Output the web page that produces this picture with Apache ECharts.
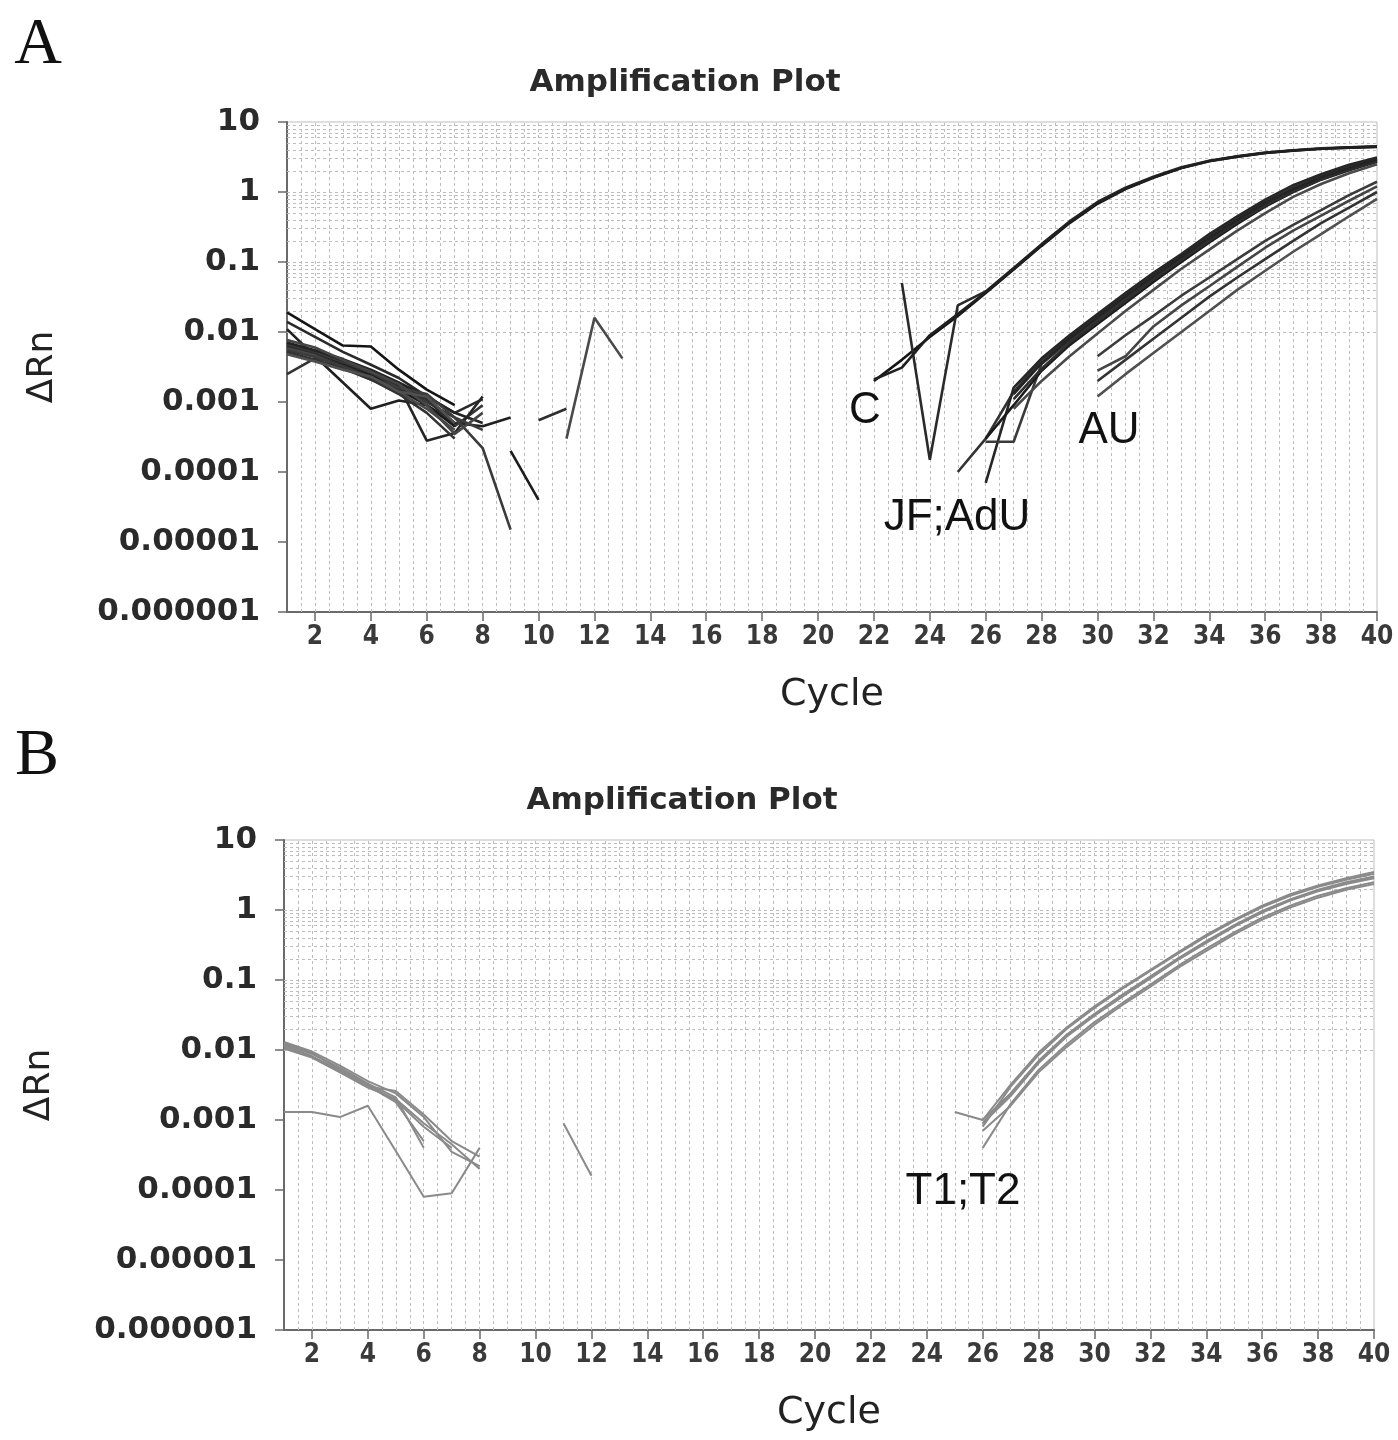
<!DOCTYPE html>
<html>
<head>
<meta charset="utf-8">
<script src="https://cdn.jsdelivr.net/npm/echarts@6/dist/echarts.min.js"></script>
<style>
html,body{margin:0;padding:0;background:#fff;}
#chart{width:1398px;height:1440px;}
</style>
</head>
<body>
<div id="chart"></div>
<script>
const _ = null;
// x positions (cycle numbers) shared by all series
const cycles = [1,2,3,4,5,6,7,8,9,10,11,12,13,14,15,16,17,18,19,20,21,22,23,24,25,26,27,28,29,30,31,32,33,34,35,36,37,38,39,40];
const xTickValues = [2,4,6,8,10,12,14,16,18,20,22,24,26,28,30,32,34,36,38,40];
const yTickValues = [0.000001,0.00001,0.0001,0.001,0.01,0.1,1,10];
const yTickLabels = ['0.000001','0.00001','0.0001','0.001','0.01','0.1','1','10'];

// ---- Panel A : ΔRn per cycle (null = not plotted) ----
//            c1..c13                                                                          c14..c21          c22..c40
const A_C1  = [0.019,0.011,0.0064,0.0062,0.0029,0.0015,0.0009,_,_,_,_,_,_,                    _,_,_,_,_,_,_,_, 0.002,0.004,0.0085,0.017,0.036,0.078,0.17,0.36,0.68,1.1,1.6,2.2,2.75,3.2,3.6,3.9,4.15,4.3,4.45];
const A_C2  = [0.014,0.0085,0.0052,0.0034,0.0022,0.0012,0.0007,0.0011,_,_,_,_,_,              _,_,_,_,_,_,_,_, _,0.05,0.00015,0.024,0.038,0.082,0.18,0.38,0.72,1.15,1.65,2.25,2.8,3.25,3.65,3.95,4.2,4.35,4.5];
const A_C3  = [0.011,0.0045,0.0019,0.0008,0.00105,0.0009,0.0005,0.00045,0.0006,_,_,_,_,        _,_,_,_,_,_,_,_, 0.0021,0.0031,0.009,0.018,0.037,0.08,0.175,0.37,0.7,1.12,1.62,2.2,2.78,3.2,3.6,3.92,4.15,4.3,4.4];
const A_J1  = [0.0025,0.0042,0.0038,0.0028,0.0018,0.0011,0.00045,0.0009,_,_,_,_,_,            _,_,_,_,_,_,_,_, _,_,_,0.0001,0.0003,0.0014,0.004,0.0085,0.017,0.034,0.066,0.125,0.23,0.42,0.72,1.15,1.7,2.3,3.0];
const A_J2  = [0.0068,0.0052,0.0038,0.0026,0.0017,0.00028,0.00036,0.0012,_,_,_,_,_,           _,_,_,_,_,_,_,_, _,_,_,_,0.00007,0.0016,0.0042,0.009,0.018,0.036,0.07,0.13,0.25,0.45,0.78,1.25,1.8,2.45,3.1];
const A_J3  = [0.0065,0.005,0.0036,0.0025,0.0016,0.001,0.0006,0.00022,0.000015,_,_,_,_,       _,_,_,_,_,_,_,_, _,_,_,_,0.00027,0.00027,0.0035,0.0075,0.015,0.03,0.06,0.115,0.21,0.38,0.66,1.05,1.55,2.15,2.8];
const A_J4  = [0.006,0.0047,0.0034,0.0024,0.0015,0.0009,0.00045,_,0.0002,0.00004,_,_,_,        _,_,_,_,_,_,_,_, _,_,_,_,0.0003,0.0009,0.0028,0.0065,0.013,0.026,0.052,0.1,0.19,0.35,0.62,1.0,1.5,2.05,2.7];
const A_J5  = [0.0062,0.0048,0.0033,0.0023,0.0015,0.0011,0.0005,_,_,0.00055,0.0008,_,_,        _,_,_,_,_,_,_,_, _,_,_,_,_,0.0011,0.003,0.007,0.014,0.028,0.056,0.108,0.2,0.37,0.64,1.02,1.52,2.1,2.75];
const A_J6  = [0.0058,0.0046,0.0031,0.0021,0.0014,0.0008,0.0004,_,_,_,0.0003,0.016,0.0042,     _,_,_,_,_,_,_,_, _,_,_,_,_,0.0008,0.002,0.0045,0.0095,0.02,0.04,0.08,0.15,0.28,0.5,0.85,1.3,1.85,2.5];
const A_J7  = [0.0071,0.0055,0.0041,0.0029,0.0019,0.0012,0.0007,0.0005,_,_,_,_,_,             _,_,_,_,_,_,_,_, _,_,_,_,_,0.0013,0.0036,0.008,0.016,0.032,0.062,0.118,0.22,0.4,0.7,1.1,1.62,2.2,2.9];
const A_AU1 = [0.0055,0.0044,0.0032,0.0022,0.0016,0.0013,0.0006,0.0004,_,_,_,_,_,             _,_,_,_,_,_,_,_, _,_,_,_,_,_,_,_,0.0045,0.009,0.017,0.033,0.06,0.11,0.2,0.34,0.55,0.9,1.4];
const A_AU2 = [0.0077,0.006,0.004,0.0027,0.0018,0.0009,0.00035,0.0007,_,_,_,_,_,              _,_,_,_,_,_,_,_, _,_,_,_,_,_,_,_,0.0028,0.0045,0.012,0.024,0.045,0.085,0.16,0.28,0.46,0.75,1.2];
const A_AU3 = [0.0052,0.004,0.003,0.0021,0.0013,0.0007,0.0003,_,_,_,_,_,_,                    _,_,_,_,_,_,_,_, _,_,_,_,_,_,_,_,0.002,0.004,0.008,0.016,0.032,0.06,0.11,0.2,0.36,0.6,1.0];
const A_AU4 = [0.0048,0.0038,0.0029,0.0023,0.0014,0.0012,0.0005,_,_,_,_,_,_,                  _,_,_,_,_,_,_,_, _,_,_,_,_,_,_,_,0.0012,0.0025,0.005,0.01,0.02,0.04,0.075,0.14,0.25,0.45,0.8];

// ---- Panel B ----
const B_T1 = [0.013,0.0095,0.006,0.0036,0.0024,0.0011,0.00035,0.00022,_,_,_,_,_,              _,_,_,_,_,_,_,_, _,_,_,0.0013,0.001,0.0024,0.0068,0.016,0.032,0.06,0.11,0.2,0.35,0.6,0.95,1.4,1.9,2.4,2.9];
const B_T2 = [0.012,0.0088,0.0056,0.0033,0.0021,0.0004,_,_,_,_,_,_,_,                         _,_,_,_,_,_,_,_, _,_,_,_,0.0004,0.0017,0.0052,0.012,0.025,0.047,0.086,0.16,0.28,0.48,0.78,1.15,1.6,2.05,2.5];
const B_T3 = [0.0115,0.0082,0.005,0.003,0.0026,0.0012,0.0005,0.0003,_,_,_,_,_,               _,_,_,_,_,_,_,_, _,_,_,_,0.0008,0.003,0.0085,0.02,0.04,0.075,0.135,0.24,0.42,0.7,1.1,1.6,2.15,2.7,3.3];
const B_T4 = [0.0125,0.009,0.0053,0.0032,0.0019,0.0008,0.0004,_,_,_,_,_,_,                   _,_,_,_,_,_,_,_, _,_,_,_,0.0009,0.0022,0.0065,0.0155,0.031,0.058,0.105,0.195,0.34,0.58,0.92,1.36,1.85,2.35,2.85];
const B_T5 = [0.0013,0.0013,0.0011,0.0016,0.00036,0.00008,0.00009,0.0004,_,_,_,_,_,          _,_,_,_,_,_,_,_, _,_,_,_,0.001,0.0032,0.0092,0.021,0.042,0.078,0.14,0.25,0.44,0.73,1.15,1.68,2.25,2.85,3.5];
const B_T6 = [0.011,0.008,0.0052,0.0031,0.0018,0.0005,_,_,_,_,_,_,_,                         _,_,_,_,_,_,_,_, _,_,_,_,0.0007,0.0016,0.0048,0.011,0.023,0.044,0.08,0.15,0.26,0.45,0.73,1.08,1.5,1.95,2.35];
const B_T7 = [0.0105,0.0078,0.0048,0.0029,0.002,0.0009,0.00045,0.0002,_,_,0.0009,0.00016,_,   _,_,_,_,_,_,_,_, _,_,_,_,0.0009,0.0024,0.007,0.0165,0.033,0.062,0.113,0.205,0.36,0.61,0.97,1.42,1.95,2.5,3.0];

const panelA = [A_C1,A_C2,A_C3,A_J1,A_J2,A_J3,A_J4,A_J5,A_J6,A_J7,A_AU1,A_AU2,A_AU3,A_AU4];
const panelAColors = ['#151515','#2a2a2a','#202020','#333','#262626','#3a3a3a','#1c1c1c','#2e2e2e','#4a4a4a','#242424','#3c3c3c','#454545','#333','#505050'];
const panelB = [B_T1,B_T2,B_T3,B_T4,B_T5,B_T6,B_T7];

// grid-line positions (styling only)
const xGridLines = [];
for (let v = 1.5; v <= 39.5; v += 0.5) xGridLines.push(v);
const yGridLines = [];
for (let e = -6; e <= 0; e++) for (let k = 1; k <= 9; k++) { if (!(e === -6 && k === 1)) yGridLines.push(k * Math.pow(10, e)); }

function toPairs(arr) { return cycles.map((c, i) => [c, arr[i] === null ? '-' : arr[i]]); }

const FONT = "'DejaVu Sans', 'Liberation Sans', sans-serif";
const NARROW = "'Liberation Sans Narrow', 'DejaVu Sans Condensed', 'Liberation Sans', sans-serif";

function makeX(gi) {
  return {
    type: 'value', gridIndex: gi, min: 1, max: 40,
    axisLine: { show: true, onZero: false, lineStyle: { color: '#6a6a6a', width: 2 } },
    axisTick: { show: true, customValues: xTickValues, length: 9, lineStyle: { color: '#6a6a6a', width: 1.5 } },
    axisLabel: { customValues: xTickValues, fontSize: 26, fontWeight: 'bold', color: '#3a3a3a', fontFamily: NARROW, margin: 12 },
    splitLine: { show: false },
    name: 'Cycle', nameLocation: 'middle', nameGap: 64,
    nameTextStyle: { fontSize: 38, color: '#222', fontFamily: FONT }
  };
}
function makeY(gi) {
  return {
    type: 'log', logBase: 10, gridIndex: gi, min: 0.000001, max: 10, splitNumber: 7,
    axisLine: { show: true, onZero: false, lineStyle: { color: '#6a6a6a', width: 2 } },
    axisTick: { show: true, customValues: yTickValues, length: 9, lineStyle: { color: '#6a6a6a', width: 1.5 } },
    axisLabel: {
      customValues: yTickValues, fontSize: 31, fontWeight: 'bold', color: '#2a2a2a', fontFamily: FONT, margin: 27,
      formatter: function (v) { return yTickLabels[Math.round(Math.log10(v)) + 6]; }
    },
    splitLine: { show: false },
    name: 'ΔRn', nameLocation: 'middle', nameGap: 226, nameRotate: 90,
    nameTextStyle: { fontSize: 36, color: '#222', fontFamily: FONT }
  };
}
function gridSeries(gi) {
  const data = [];
  xGridLines.forEach(v => data.push({ xAxis: v }));
  yGridLines.forEach(v => data.push({ yAxis: v }));
  return {
    type: 'line', xAxisIndex: gi, yAxisIndex: gi, data: [], silent: true, z: 1,
    markLine: {
      silent: true, symbol: ['none', 'none'], label: { show: false }, z: 1, animation: false,
      lineStyle: { type: [3, 3], color: '#bdbdbd', width: 1 },
      emphasis: { disabled: true },
      data: data
    }
  };
}

const series = [gridSeries(0), gridSeries(1)];
panelA.forEach((arr, i) => series.push({
  type: 'line', xAxisIndex: 0, yAxisIndex: 0, data: toPairs(arr), showSymbol: false, symbol: 'none',
  connectNulls: false, z: 3, lineStyle: { color: panelAColors[i], width: 2.6 }, silent: true
}));
panelB.forEach((arr) => series.push({
  type: 'line', xAxisIndex: 1, yAxisIndex: 1, data: toPairs(arr), showSymbol: false, symbol: 'none',
  connectNulls: false, z: 3, lineStyle: { color: '#8a8a8a', width: 2 }, silent: true
}));

function txt(x, y, s, size) {
  return {
    type: 'text', x: x, y: y, z: 10,
    style: { text: s, fontSize: size, fontFamily: "'Liberation Sans', Arial, sans-serif", fill: '#111', align: 'center', verticalAlign: 'middle' }
  };
}
const graphics = [
  { type: 'text', x: 38, y: 46, z: 10, style: { text: 'A', fontSize: 66, fontFamily: "'Liberation Serif', 'Times New Roman', serif", fill: '#111', align: 'center', verticalAlign: 'middle' } },
  { type: 'text', x: 37, y: 757, z: 10, style: { text: 'B', fontSize: 66, fontFamily: "'Liberation Serif', 'Times New Roman', serif", fill: '#111', align: 'center', verticalAlign: 'middle' } },
  { type: 'text', x: 685, y: 83, z: 10, style: { text: 'Amplification Plot', fontSize: 31, fontWeight: 'bold', fontFamily: FONT, fill: '#2a2a2a', align: 'center', verticalAlign: 'middle' } },
  { type: 'text', x: 682, y: 801, z: 10, style: { text: 'Amplification Plot', fontSize: 31, fontWeight: 'bold', fontFamily: FONT, fill: '#2a2a2a', align: 'center', verticalAlign: 'middle' } },
  txt(865, 411, 'C', 44),
  txt(957, 518, 'JF;AdU', 44),
  txt(1109, 431, 'AU', 44),
  txt(963, 1192, 'T1;T2', 44)
];

const chart = echarts.init(document.getElementById('chart'), null, { renderer: 'canvas' });
chart.setOption({
  animation: false,
  backgroundColor: '#ffffff',
  grid: [
    { left: 287, top: 122, width: 1090, height: 490, show: true, borderColor: '#bdbdbd', borderWidth: 1, backgroundColor: '#fff' },
    { left: 284, top: 840, width: 1090, height: 490, show: true, borderColor: '#bdbdbd', borderWidth: 1, backgroundColor: '#fff' }
  ],
  xAxis: [makeX(0), makeX(1)],
  yAxis: [makeY(0), makeY(1)],
  series: series,
  graphic: graphics
});
</script>
</body>
</html>
